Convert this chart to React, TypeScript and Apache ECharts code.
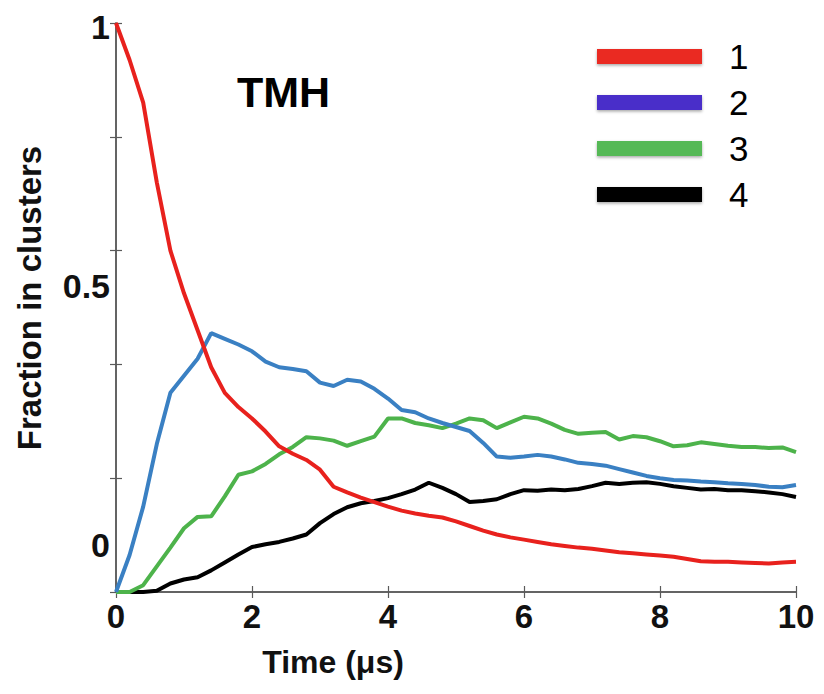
import React, { useEffect, useRef } from "react";
import * as echarts from "echarts";

const times: number[] = [
  0, 0.2, 0.4, 0.6, 0.8, 1.0, 1.2, 1.4, 1.6, 1.8, 2.0, 2.2, 2.4, 2.6, 2.8, 3.0, 3.2, 3.4, 3.6, 3.8,
  4.0, 4.2, 4.4, 4.6, 4.8, 5.0, 5.2, 5.4, 5.6, 5.8, 6.0, 6.2, 6.4, 6.6, 6.8, 7.0, 7.2, 7.4, 7.6, 7.8,
  8.0, 8.2, 8.4, 8.6, 8.8, 9.0, 9.2, 9.4, 9.6, 9.8, 10.0,
];

const cluster1: number[] = [
  1.0, 0.935, 0.86, 0.72, 0.6, 0.525, 0.46, 0.395, 0.35, 0.325, 0.305, 0.282, 0.256, 0.243, 0.232,
  0.215, 0.185, 0.175, 0.166, 0.158, 0.15, 0.143, 0.138, 0.134, 0.131, 0.124, 0.116, 0.108, 0.101,
  0.096, 0.092, 0.088, 0.084, 0.081, 0.078, 0.076, 0.073, 0.07, 0.068, 0.066, 0.064, 0.062, 0.058,
  0.054, 0.053, 0.053, 0.052, 0.051, 0.05, 0.052, 0.053,
];

const cluster2: number[] = [
  0, 0.065, 0.15, 0.26, 0.35, 0.38, 0.41, 0.455, 0.445, 0.435, 0.423, 0.405, 0.395, 0.392, 0.388,
  0.368, 0.362, 0.373, 0.37, 0.357, 0.34, 0.32, 0.316, 0.305, 0.297, 0.29, 0.283, 0.262, 0.238,
  0.236, 0.238, 0.241, 0.238, 0.233, 0.227, 0.225, 0.222, 0.216, 0.21, 0.204, 0.2, 0.197, 0.196,
  0.194, 0.193, 0.191, 0.19, 0.188, 0.185, 0.184, 0.188,
];

const cluster3: number[] = [
  0, 0, 0.012, 0.045, 0.078, 0.112, 0.132, 0.133, 0.168, 0.206, 0.212, 0.225, 0.242, 0.255, 0.272,
  0.27, 0.266, 0.257, 0.265, 0.273, 0.305, 0.305, 0.297, 0.293, 0.288, 0.296, 0.305, 0.302, 0.288,
  0.298, 0.308, 0.305, 0.296, 0.285, 0.278, 0.28, 0.281, 0.268, 0.274, 0.272, 0.265, 0.256, 0.258,
  0.263, 0.26, 0.257, 0.255, 0.255, 0.253, 0.254, 0.246,
];

const cluster4: number[] = [
  0, 0, 0, 0.002, 0.015, 0.022, 0.026, 0.038, 0.052, 0.066, 0.079, 0.084, 0.088, 0.094, 0.101,
  0.121, 0.137, 0.149, 0.156, 0.16, 0.165, 0.172, 0.18, 0.192, 0.183, 0.172, 0.158, 0.16, 0.163,
  0.172, 0.179, 0.178, 0.18, 0.179, 0.181, 0.186, 0.192, 0.19, 0.192, 0.193, 0.19, 0.186, 0.183,
  0.18, 0.181, 0.179, 0.179, 0.177, 0.175, 0.172, 0.167,
];

const seriesNames: string[] = ["1", "2", "3", "4"];
const lineColors: string[] = ["#e8211d", "#3a80c3", "#4db34b", "#000000"];
const legendColors: string[] = ["#ea2a22", "#4a2fc9", "#55b957", "#000000"];
const yLabelValues: number[] = [0, 0.5, 1];
const xTickInterval = 2;

const FONT = "'Liberation Sans', Arial, Helvetica, sans-serif";

export default function App() {
  const ref = useRef<HTMLDivElement>(null);

  useEffect(() => {
    if (!ref.current) return;
    const chart = echarts.init(ref.current, undefined, { renderer: "svg" });
    const allData = [cluster1, cluster2, cluster3, cluster4];
    const axisLine = { show: true, lineStyle: { color: "#5a5a5a", width: 1.5 } };
    const tick = { show: true, inside: true, length: 6, lineStyle: { color: "#5a5a5a", width: 1.2 } };

    chart.setOption({
      animation: false,
      backgroundColor: "#ffffff",
      grid: { left: 116, top: 23, right: 28, bottom: 102, containLabel: false },
      legend: {
        show: true,
        orient: "vertical",
        left: 592,
        top: 34,
        icon: "rect",
        itemWidth: 105,
        itemHeight: 15,
        itemGap: 11,
        selectedMode: false,
        textStyle: {
          fontFamily: FONT,
          fontSize: 35,
          lineHeight: 30,
          color: "#000000",
          padding: [0, 0, 0, 22],
        },
        data: seriesNames.map((n, i) => ({
          name: n,
          itemStyle: {
            color: legendColors[i],
            shadowBlur: 3,
            shadowColor: "rgba(0,0,0,0.35)",
            shadowOffsetY: 1.5,
          },
        })),
      },
      xAxis: [
        {
          type: "value",
          position: "bottom",
          min: 0,
          max: 10,
          interval: xTickInterval,
          axisLine,
          axisTick: tick,
          splitLine: { show: false },
          axisLabel: {
            margin: 8,
            fontFamily: FONT,
            fontWeight: "bold",
            fontSize: 33,
            color: "#111111",
          },
        },
        {
          type: "value",
          position: "top",
          min: 0,
          max: 10,
          interval: xTickInterval,
          axisLine,
          axisTick: tick,
          splitLine: { show: false },
          axisLabel: { show: false },
        },
      ],
      yAxis: [
        {
          type: "value",
          position: "left",
          min: 0,
          max: 1,
          interval: 0.2,
          axisLine,
          axisTick: tick,
          splitLine: { show: false },
          axisLabel: { show: false },
        },
        {
          type: "value",
          position: "right",
          min: 0,
          max: 1,
          interval: 0.2,
          axisLine,
          axisTick: tick,
          splitLine: { show: false },
          axisLabel: { show: false },
        },
        {
          type: "value",
          position: "left",
          min: -0.0907,
          max: 1.0077,
          axisLine: { show: false },
          axisTick: { show: false },
          splitLine: { show: false },
          axisLabel: {
            show: true,
            customValues: yLabelValues,
            formatter: (v: number) => String(v),
            margin: 6,
            fontFamily: FONT,
            fontWeight: "bold",
            fontSize: 34,
            color: "#111111",
          },
        },
      ],
      graphic: [
        {
          type: "text",
          left: 237,
          top: 70,
          style: { text: "TMH", font: `bold 43px ${FONT}`, fill: "#000000" },
        },
        {
          type: "text",
          x: 333,
          y: 662,
          style: {
            text: "Time (μs)",
            font: `bold 32px ${FONT}`,
            fill: "#111111",
            align: "center",
            verticalAlign: "middle",
          },
        },
        {
          type: "text",
          x: 29,
          y: 298,
          rotation: Math.PI / 2,
          style: {
            text: "Fraction in clusters",
            font: `bold 33px ${FONT}`,
            fill: "#111111",
            align: "center",
            verticalAlign: "middle",
          },
        },
      ],
      series: allData.map((d, i) => ({
        name: seriesNames[i],
        type: "line",
        xAxisIndex: 0,
        yAxisIndex: 0,
        data: times.map((t, k) => [t, d[k]]),
        showSymbol: false,
        symbol: "none",
        color: lineColors[i],
        lineStyle: { color: lineColors[i], width: 4 },
        z: 10 - i,
      })),
    });

    return () => chart.dispose();
  }, []);

  return <div ref={ref} style={{ width: 824, height: 694, margin: -8 }} />;
}
